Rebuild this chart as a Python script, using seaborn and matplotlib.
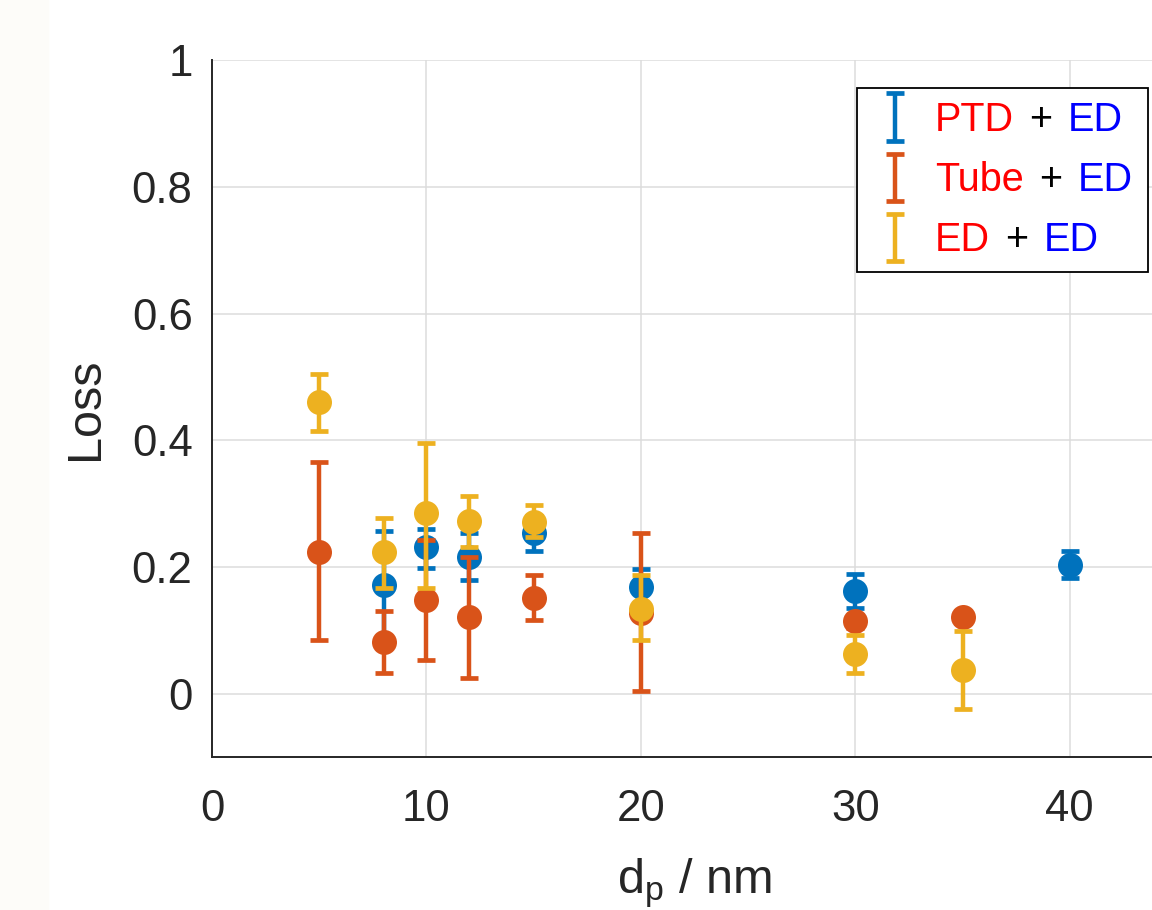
import numpy as np
import pandas as pd
import seaborn as sns
import matplotlib.pyplot as plt
from matplotlib.legend_handler import HandlerErrorbar
from matplotlib.patches import Rectangle

# data (particle diameter in nm, loss fraction)
ptd_x = [8, 10, 12, 15, 20, 30, 40]
ptd_y = [0.172, 0.232, 0.216, 0.253, 0.168, 0.162, 0.203]
ptd_lo = [0.085, 0.033, 0.036, 0.028, 0.029, 0.027, 0.021]
ptd_hi = [0.085, 0.028, 0.037, 0.028, 0.029, 0.027, 0.022]

tube_x = [5, 8, 10, 12, 15, 20, 30, 35]
tube_y = [0.224, 0.082, 0.148, 0.121, 0.151, 0.127, 0.114, 0.121]
tube_lo = [0.140, 0.049, 0.095, 0.097, 0.034, 0.123, 0.010, 0.010]
tube_hi = [0.141, 0.048, 0.095, 0.094, 0.036, 0.126, 0.010, 0.010]

ed_x = [5, 8, 10, 12, 15, 20, 30, 35]
ed_y = [0.461, 0.223, 0.285, 0.273, 0.271, 0.133, 0.062, 0.037]
ed_lo = [0.046, 0.056, 0.118, 0.041, 0.023, 0.049, 0.029, 0.061]
ed_hi = [0.044, 0.054, 0.111, 0.039, 0.027, 0.054, 0.031, 0.062]

names = [("PTD", "+", "ED"), ("Tube", "+", "ED"), ("ED", "+", "ED")]
colors = ["#0072BD", "#D95319", "#EDB120"]

sns.set_style("white")
plt.rcParams['font.family'] = ['Liberation Sans', 'DejaVu Sans']
plt.rcParams['mathtext.fontset'] = 'custom'
plt.rcParams['mathtext.rm'] = 'Liberation Sans'
plt.rcParams['mathtext.it'] = 'Liberation Sans:italic'

fig = plt.figure(figsize=(11.52, 9.10), dpi=100)
fig.patches.append(Rectangle((0, 0), 0.042, 1, transform=fig.transFigure,
                             color='#fdfcf9', zorder=-1))
ax = fig.add_axes([0.184, 0.1681, 0.8377, 0.7659])

series = [(ptd_x, ptd_y, ptd_lo, ptd_hi),
          (tube_x, tube_y, tube_lo, tube_hi),
          (ed_x, ed_y, ed_lo, ed_hi)]

handles = []
for i, (sx, sy, lo, hi) in enumerate(series):
    df = pd.DataFrame({'dp': sx, 'loss': sy})
    eb = ax.errorbar(df['dp'], df['loss'], yerr=[lo, hi], fmt='none',
                     ecolor=colors[i], elinewidth=3.2, capsize=6.8,
                     capthick=3.4, zorder=3 + i)
    sns.scatterplot(data=df, x='dp', y='loss', color=colors[i], s=324,
                    linewidth=0, ax=ax, zorder=3.5 + i, legend=False)
    handles.append(eb)

ax.set_xlim(0, 45)
ax.set_ylim(-0.1, 1)
ax.set_xticks([0, 10, 20, 30, 40])
ax.set_yticks([0, 0.2, 0.4, 0.6, 0.8, 1])
ax.set_yticklabels(["0", "0.2", "0.4", "0.6", "0.8", "1"])
ax.grid(True, color='#dcdcdc', linewidth=1.1)
ax.set_axisbelow(True)
for s in ['top', 'right']:
    ax.spines[s].set_visible(False)
for s in ['left', 'bottom']:
    ax.spines[s].set_color('#262626')
    ax.spines[s].set_linewidth(1.4)
ax.tick_params(axis='both', direction='in', length=5, width=1.2,
               colors='#262626', labelsize=31.5)
ax.tick_params(axis='x', pad=23)
ax.tick_params(axis='y', pad=14)

ax.set_ylabel("Loss", fontsize=35, color='#262626')
ax.yaxis.set_label_coords(-0.108, 0.5)
ax.set_xlabel(r"d$_\mathrm{p}$ / nm", fontsize=35, color='#262626')
ax.xaxis.set_label_coords(0.5, -0.142)

# placeholder labels reserve the room, colored pieces are drawn on top
blank = ["PTD + ED ", "Tube + ED ", "ED + ED "]
leg = ax.legend(handles, blank, loc='upper right',
                bbox_to_anchor=(0.9965, 0.9033), bbox_transform=fig.transFigure,
                borderaxespad=0, fontsize=28.5, fancybox=False,
                edgecolor='black', framealpha=1, handlelength=1.3,
                handletextpad=0.35, labelspacing=0.56, borderpad=0.33,
                handler_map={type(handles[0]): HandlerErrorbar(yerr_size=0.6)})
leg.get_frame().set_linewidth(1.3)
leg.set_zorder(8)

# colored legend labels: red name, black plus, blue ED
for t, parts in zip(leg.get_texts(), names):
    t.set_color('none')
    anchor = t
    xy = (0, 0)
    gap = 0
    for part, c in zip(parts, ['red', 'black', 'blue']):
        anchor = ax.annotate(part, xy=xy, xycoords=anchor, xytext=(gap, 0),
                             textcoords='offset points', va='bottom',
                             ha='left', fontsize=28.5, color=c,
                             annotation_clip=False, zorder=10)
        xy = (1, 0)
        gap = 11

fig.savefig("out.png", dpi=100)
